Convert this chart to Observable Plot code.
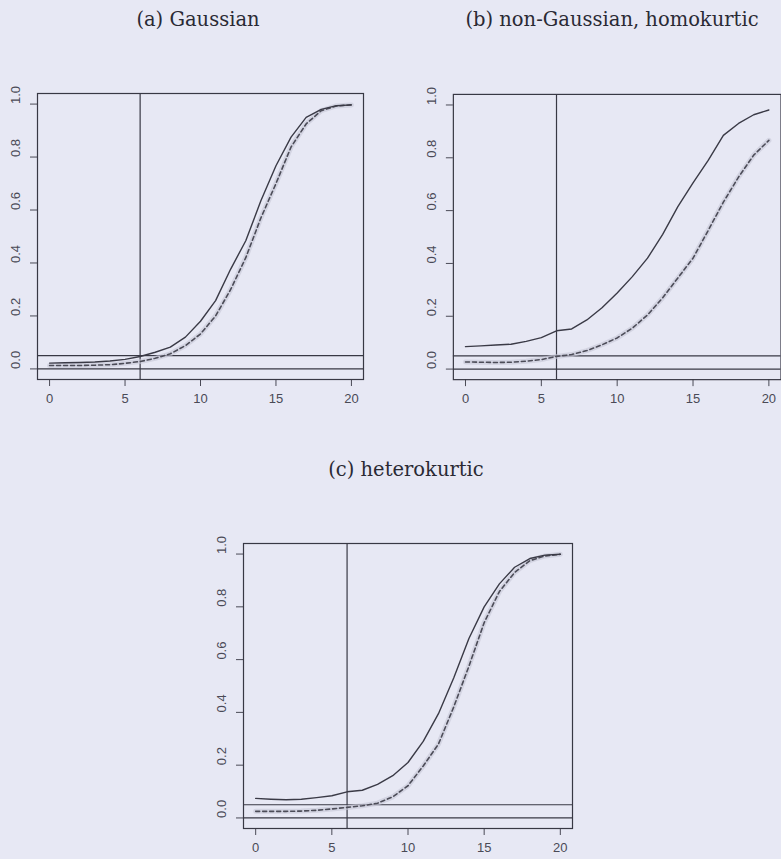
<!DOCTYPE html>
<html>
<head>
<meta charset="utf-8">
<script src="https://cdn.jsdelivr.net/npm/d3@7"></script>
<script src="https://cdn.jsdelivr.net/npm/@observablehq/plot@0.6"></script>
<style>
  html, body { margin: 0; padding: 0; width: 781px; height: 859px; overflow: hidden; background: #e7e8f4; }
  .panel { position: absolute; }
  .ttl { position: absolute; width: 400px; text-align: center; font-family: "DejaVu Serif", serif; font-size: 19.5px; line-height: 19.5px; color: #2a2a34; white-space: nowrap; }
</style>
</head>
<body>
<div id="root"></div>
<script>
// ---- data ----
const steps = [0,1,2,3,4,5,6,7,8,9,10,11,12,13,14,15,16,17,18,19,20];

const gaussSolid = [0.022,0.023,0.024,0.026,0.030,0.036,0.047,0.063,0.082,0.120,0.180,0.258,0.377,0.484,0.635,0.767,0.875,0.950,0.980,0.994,0.997];
const gaussDash  = [0.013,0.013,0.013,0.014,0.016,0.021,0.028,0.040,0.057,0.088,0.132,0.200,0.300,0.420,0.570,0.700,0.838,0.925,0.975,0.993,0.997];

const homoSolid  = [0.085,0.088,0.091,0.094,0.105,0.119,0.145,0.152,0.186,0.232,0.288,0.350,0.420,0.510,0.615,0.705,0.790,0.885,0.930,0.963,0.981];
const homoDash   = [0.027,0.026,0.025,0.026,0.030,0.036,0.048,0.055,0.070,0.092,0.118,0.155,0.205,0.270,0.345,0.420,0.525,0.632,0.727,0.810,0.866];

const heteroSolid = [0.074,0.071,0.069,0.071,0.077,0.084,0.099,0.105,0.127,0.160,0.210,0.290,0.395,0.530,0.680,0.800,0.887,0.950,0.983,0.996,0.999];
const heteroDash  = [0.025,0.025,0.025,0.026,0.029,0.034,0.040,0.046,0.056,0.080,0.122,0.197,0.280,0.420,0.575,0.740,0.858,0.930,0.975,0.993,0.999];

const titles = ["(a) Gaussian", "(b) non-Gaussian, homokurtic", "(c) heterokurtic"];
const xTicks = [0, 5, 10, 15, 20];
const yTicks = [0, 0.2, 0.4, 0.6, 0.8, 1.0];
const levelLines = [0, 0.05];
const cutoff = [6];

// ---- drawing ----
const ink = "#383844";
function panel(solid, dash, o) {
  const rows = steps.map((s, i) => ({s, a: solid[i], b: dash[i]}));
  return Plot.plot({
    width: o.width, height: o.height,
    marginLeft: o.ml, marginRight: o.mr, marginTop: o.mt, marginBottom: o.mb,
    style: {background: "transparent", fontFamily: "'Liberation Sans', Arial, sans-serif", fontSize: "13px", color: "#4a4a56"},
    x: {domain: [-0.8, 20.8], ticks: xTicks, tickSize: 7, tickPadding: 7, label: null, tickFormat: d => String(d)},
    y: {domain: [-0.04, 1.04], ticks: yTicks, tickSize: 7, tickFormat: () => "", label: null},
    marks: [
      Plot.ruleY(levelLines, {stroke: ink, strokeWidth: 1.2}),
      Plot.ruleX(cutoff, {stroke: ink, strokeWidth: 1.2}),
      Plot.line(rows, {x: "s", y: "b", stroke: "#c6c7d6", strokeWidth: 5, strokeOpacity: 0.6}),
      Plot.line(rows, {x: "s", y: "b", stroke: "#4c4c58", strokeWidth: 1.6, strokeDasharray: "4,3"}),
      Plot.line(rows, {x: "s", y: "a", stroke: "#3a3a46", strokeWidth: 1.4}),
      Plot.frame({stroke: ink, strokeWidth: 1.2}),
      Plot.text(yTicks, {y: d => d, frameAnchor: "left", dx: -22, rotate: -90, text: d => d.toFixed(1), fill: "#4a4a56", fontSize: 13})
    ]
  });
}

const root = document.getElementById("root");
function place(node, left, top) {
  const d = document.createElement("div");
  d.className = "panel";
  d.style.left = left + "px"; d.style.top = top + "px";
  d.appendChild(node);
  root.appendChild(d);
}
function title(text, cx, top) {
  const d = document.createElement("div");
  d.className = "ttl";
  d.style.left = (cx - 200) + "px"; d.style.top = top + "px";
  d.textContent = text;
  root.appendChild(d);
}

place(panel(gaussSolid, gaussDash, {width: 390, height: 360, ml: 37, mr: 27, mt: 33, mb: 41}), 0, 60);
place(panel(homoSolid, homoDash, {width: 382, height: 360, ml: 53, mr: 0.5, mt: 34, mb: 40}), 400, 60);
place(panel(heteroSolid, heteroDash, {width: 400, height: 359, ml: 43, mr: 28, mt: 43, mb: 31}), 200, 500);

title(titles[0], 198, 10);
title(titles[1], 612, 10);
title(titles[2], 406, 460);
</script>
</body>
</html>
